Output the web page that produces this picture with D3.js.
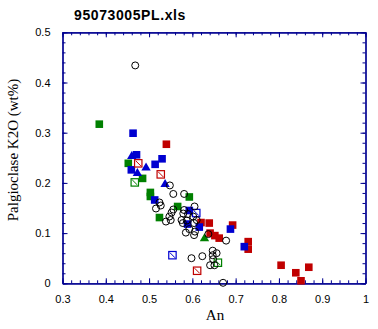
<!DOCTYPE html>
<html>
<head>
<meta charset="utf-8">
<script src="https://cdn.jsdelivr.net/npm/d3@7/dist/d3.min.js"></script>
<style>
  html, body { margin: 0; padding: 0; background: #fff; }
  svg { display: block; }
</style>
</head>
<body>
<svg id="chart" width="378" height="329"></svg>
<script>
// An (x) vs plagioclase K2O wt% (y), grouped by marker style
const openCircles = [
  [0.468,0.434],[0.548,0.195],[0.556,0.178],[0.581,0.178],[0.524,0.161],
  [0.527,0.155],[0.516,0.149],[0.556,0.147],[0.552,0.141],[0.605,0.153],
  [0.579,0.139],[0.547,0.133],[0.539,0.123],[0.575,0.126],[0.587,0.125],
  [0.602,0.133],[0.578,0.120],[0.604,0.120],[0.585,0.101],[0.604,0.096],
  [0.606,0.103],[0.637,0.098],[0.678,0.085],[0.647,0.065],[0.647,0.056],
  [0.656,0.060],[0.648,0.048],[0.641,0.036],[0.651,0.036],[0.598,0.050],
  [0.623,0.054],[0.671,0.001],[0.581,0.146],[0.590,0.138],[0.610,0.126],
  [0.593,0.108],[0.550,0.126]
];
const blueSquares = [
  [0.463,0.299],[0.471,0.256],[0.530,0.248],[0.514,0.237],[0.459,0.226],
  [0.513,0.166],[0.593,0.145],[0.589,0.118],[0.616,0.112],[0.688,0.108],
  [0.720,0.073]
];
const blueTriangles = [
  [0.460,0.253],[0.493,0.230],[0.473,0.219],[0.537,0.197]
];
const redSquares = [
  [0.540,0.277],[0.620,0.121],[0.639,0.120],[0.693,0.116],[0.641,0.100],
  [0.652,0.095],[0.662,0.090],[0.729,0.083],[0.729,0.068],[0.805,0.036],
  [0.839,0.021],[0.869,0.032],[0.851,0.005]
];
const greenSquares = [
  [0.385,0.317],[0.452,0.239],[0.485,0.209],[0.503,0.181],[0.503,0.173],
  [0.593,0.172],[0.566,0.153],[0.524,0.131]
];
const greenTriangles = [[0.628,0.089]];
const redCrossed = [[0.475,0.239],[0.527,0.217],[0.611,0.025]];
const blueCrossed = [[0.554,0.056],[0.609,0.140]];
const greenCrossed = [[0.467,0.201],[0.659,0.041]];

const xDomain = [0.3, 1.0];
const yDomain = [0, 0.5];
const xMajor = [0.3,0.4,0.5,0.6,0.7,0.8,0.9,1.0];
const yMajor = [0,0.1,0.2,0.3,0.4,0.5];
const chartTitle = "95073005PL.xls";
const xTitle = "An";
const yTitle = "Palgioclase K2O (wt%)";

const axisColor = "#000090";
const RED = "#c00000", BLUE = "#0000d0", GREEN = "#008000";

const svg = d3.select("#chart");
const m = {left: 62.5, right: 365.5, top: 32.3, bottom: 283.3};
const x = d3.scaleLinear().domain(xDomain).range([m.left, m.right]);
const y = d3.scaleLinear().domain(yDomain).range([m.bottom, m.top]);

const xMinor = d3.range(0, 36).map(i => +(0.3 + i * 0.02).toFixed(2));
const yMinor = d3.range(0, 26).map(i => +(i * 0.02).toFixed(2));

function styleAxis(g) {
  g.select(".domain").attr("stroke", axisColor).attr("stroke-width", 1.2);
  g.selectAll(".tick line").attr("stroke", axisColor);
  g.selectAll(".tick text").attr("fill", "#000")
    .style("font-family", "Arial, 'Liberation Sans', sans-serif").style("font-size", "11px");
}

// bottom: minor + major inward ticks, labels
svg.append("g").attr("transform", `translate(0,${m.bottom})`)
  .call(d3.axisBottom(x).tickValues(xMinor).tickSize(-3).tickFormat("").tickSizeOuter(0)).call(styleAxis);
svg.append("g").attr("transform", `translate(0,${m.bottom})`)
  .call(d3.axisBottom(x).tickValues(xMajor).tickSize(-5).tickSizeOuter(0)
    .tickPadding(12).tickFormat(d => d3.format("~g")(d))).call(styleAxis);
// top
svg.append("g").attr("transform", `translate(0,${m.top})`)
  .call(d3.axisTop(x).tickValues(xMinor).tickSize(-3).tickFormat("").tickSizeOuter(0)).call(styleAxis);
svg.append("g").attr("transform", `translate(0,${m.top})`)
  .call(d3.axisTop(x).tickValues(xMajor).tickSize(-5).tickFormat("").tickSizeOuter(0)).call(styleAxis);
// left
svg.append("g").attr("transform", `translate(${m.left},0)`)
  .call(d3.axisLeft(y).tickValues(yMinor).tickSize(-3).tickFormat("").tickSizeOuter(0)).call(styleAxis);
svg.append("g").attr("transform", `translate(${m.left},0)`)
  .call(d3.axisLeft(y).tickValues(yMajor).tickSize(-5).tickSizeOuter(0)
    .tickPadding(12).tickFormat(d => d3.format("~g")(d))).call(styleAxis);
// right
svg.append("g").attr("transform", `translate(${m.right},0)`)
  .call(d3.axisRight(y).tickValues(yMinor).tickSize(-3).tickFormat("").tickSizeOuter(0)).call(styleAxis);
svg.append("g").attr("transform", `translate(${m.right},0)`)
  .call(d3.axisRight(y).tickValues(yMajor).tickSize(-5).tickFormat("").tickSizeOuter(0)).call(styleAxis);

const plot = svg.append("g");
const S = 7.6;

function squares(data, color) {
  plot.selectAll(null).data(data).enter().append("rect")
    .attr("x", d => x(d[0]) - S / 2).attr("y", d => y(d[1]) - S / 2)
    .attr("width", S).attr("height", S).attr("fill", color);
}
function triangles(data, color) {
  const sym = d3.symbol().type(d3.symbolTriangle).size(38);
  plot.selectAll(null).data(data).enter().append("path")
    .attr("d", sym).attr("transform", d => `translate(${x(d[0])},${y(d[1])})`)
    .attr("fill", color);
}
function crossed(data, color) {
  const g = plot.selectAll(null).data(data).enter().append("g")
    .attr("transform", d => `translate(${x(d[0])},${y(d[1])})`);
  g.append("rect").attr("x", -3.7).attr("y", -3.7).attr("width", 7.4).attr("height", 7.4)
    .attr("fill", "#fff").attr("stroke", color).attr("stroke-width", 1.2);
  g.append("line").attr("x1", -2.6).attr("y1", -2.6).attr("x2", 2.6).attr("y2", 2.6)
    .attr("stroke", color).attr("stroke-width", 1);
}

squares(greenSquares, GREEN);
squares(redSquares, RED);
squares(blueSquares, BLUE);
triangles(blueTriangles, BLUE);
triangles(greenTriangles, GREEN);
crossed(redCrossed, RED);
crossed(blueCrossed, BLUE);
crossed(greenCrossed, GREEN);

plot.selectAll(null).data(openCircles).enter().append("circle")
  .attr("cx", d => x(d[0])).attr("cy", d => y(d[1])).attr("r", 3.5)
  .attr("fill", "none").attr("stroke", "#000").attr("stroke-width", 1);

// titles
svg.append("text").attr("x", 74).attr("y", 20)
  .style("font-family", "Arial, 'Liberation Sans', sans-serif").style("font-size", "14px")
  .style("font-weight", "bold").style("letter-spacing", "0.6px").text(chartTitle);
svg.append("text").attr("x", 215).attr("y", 320).attr("text-anchor", "middle")
  .style("font-family", "'Liberation Serif', 'Times New Roman', serif").style("font-size", "15px")
  .text(xTitle);
svg.append("text").attr("transform", "translate(18,150) rotate(-90)").attr("text-anchor", "middle")
  .style("font-family", "'Liberation Serif', 'Times New Roman', serif").style("font-size", "15px")
  .text(yTitle);
</script>
</body>
</html>
